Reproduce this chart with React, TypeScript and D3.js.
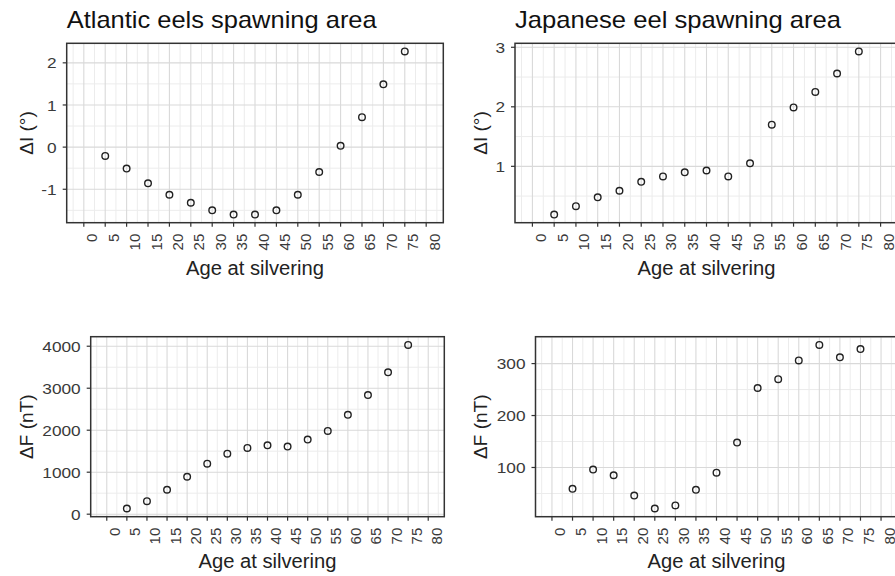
import React from "react";
import * as d3 from "d3";

const ages = [5, 10, 15, 20, 25, 30, 35, 40, 45, 50, 55, 60, 65, 70, 75];
const xTicks = [0, 5, 10, 15, 20, 25, 30, 35, 40, 45, 50, 55, 60, 65, 70, 75, 80];

const atlanticDI = [-0.21, -0.51, -0.86, -1.13, -1.32, -1.5, -1.6, -1.6, -1.5, -1.13, -0.59, 0.03, 0.71, 1.49, 2.27];
const japaneseDI = [0.19, 0.33, 0.48, 0.59, 0.74, 0.83, 0.9, 0.93, 0.83, 1.05, 1.7, 1.99, 2.25, 2.56, 2.93];
const atlanticDF = [135, 311, 582, 892, 1203, 1442, 1578, 1641, 1610, 1777, 1984, 2367, 2837, 3378, 4032];
const japaneseDF = [59, 96, 85, 46, 21, 27, 57, 90, 148, 253, 270, 306, 336, 312, 328];

const diTicksAtl = [-1, 0, 1, 2];
const diTicksJap = [1, 2, 3];
const dfTicksAtl = [0, 1000, 2000, 3000, 4000];
const dfTicksJap = [100, 200, 300];

const titleAtl = "Atlantic eels spawning area";
const titleJap = "Japanese eel spawning area";
const xLabel = "Age at silvering";
const yLabelDI = "ΔI (°)";
const yLabelDF = "ΔF (nT)";

type PanelProps = {
  left: number; right: number; top: number; bottom: number;
  values: number[]; yTicks: number[]; yStep: number;
  yLabel: string; yLabelX: number; title?: string; titleLen?: number;
  xLabelY: number;
};

function Panel(p: PanelProps) {
  const x = d3.scaleLinear().domain([-4, 84]).range([p.left, p.right]);
  const ext = d3.extent(p.values) as [number, number];
  const pad = (ext[1] - ext[0]) * 0.05;
  const y = d3.scaleLinear().domain([ext[0] - pad, ext[1] + pad]).range([p.bottom, p.top]);
  const [y0, y1] = y.domain();
  const minorX = d3.range(-2.5, 84, 5);
  const half = p.yStep / 2;
  const minorY = d3.range(Math.ceil((y0 - half) / p.yStep) * p.yStep + half, y1, p.yStep).filter(v => v > y0 && v < y1);
  const font = "'Liberation Sans', Arial, sans-serif";
  const ink = "#333";
  return (
    <g>
      <rect x={p.left} y={p.top} width={p.right - p.left} height={p.bottom - p.top} fill="#fff" />
      {minorX.map(v => (
        <line key={"mx" + v} x1={x(v)} x2={x(v)} y1={p.top} y2={p.bottom} stroke="#ececec" strokeWidth={1} />
      ))}
      {minorY.map(v => (
        <line key={"my" + v} x1={p.left} x2={p.right} y1={y(v)} y2={y(v)} stroke="#ececec" strokeWidth={1} />
      ))}
      {xTicks.map(v => (
        <line key={"gx" + v} x1={x(v)} x2={x(v)} y1={p.top} y2={p.bottom} stroke="#d9d9d9" strokeWidth={1.1} />
      ))}
      {p.yTicks.map(v => (
        <line key={"gy" + v} x1={p.left} x2={p.right} y1={y(v)} y2={y(v)} stroke="#d9d9d9" strokeWidth={1.1} />
      ))}
      <rect x={p.left} y={p.top} width={p.right - p.left} height={p.bottom - p.top} fill="none" stroke={ink} strokeWidth={1.5} />
      {ages.map((a, i) => (
        <circle key={"pt" + a} cx={x(a)} cy={y(p.values[i])} r={3.3} fill="none" stroke="#222" strokeWidth={1.4} />
      ))}
      {xTicks.map(v => (
        <g key={"xt" + v}>
          <line x1={x(v)} x2={x(v)} y1={p.bottom} y2={p.bottom + 4} stroke={ink} strokeWidth={1.2} />
          <text transform={`translate(${x(v) + 8},${p.bottom + 11}) rotate(-90)`} textAnchor="end"
            dominantBaseline="central" fontFamily={font} fontSize={15} fill="#3a3a3a">{v}</text>
        </g>
      ))}
      {p.yTicks.map(v => (
        <g key={"yt" + v}>
          <line x1={p.left - 4} x2={p.left} y1={y(v)} y2={y(v)} stroke={ink} strokeWidth={1.2} />
          <text transform={`translate(${p.left - 10},${y(v)}) scale(1.15,1)`} textAnchor="end"
            dominantBaseline="central" fontFamily={font} fontSize={15} fill="#3a3a3a">{v}</text>
        </g>
      ))}
      <text x={(p.left + p.right) / 2} y={p.xLabelY} textAnchor="middle"
        fontFamily={font} fontSize={19.5} fill="#222" textLength={138} lengthAdjust="spacingAndGlyphs">{xLabel}</text>
      <text transform={`translate(${p.yLabelX},${(p.top + p.bottom) / 2}) rotate(-90)`} textAnchor="middle"
        fontFamily={font} fontSize={19} fill="#222">{p.yLabel}</text>
      {p.title && (
        <text x={p.left} y={28} fontFamily={font} fontSize={24} fill="#111"
          textLength={p.titleLen} lengthAdjust="spacingAndGlyphs">{p.title}</text>
      )}
    </g>
  );
}

export default function App() {
  return (
    <svg width={895} height={576} style={{ position: "absolute", left: 0, top: 0, background: "#fff" }}>
      <rect x={0} y={0} width={895} height={576} fill="#fff" />
      <Panel left={66.7} right={443.3} top={43.3} bottom={222.7} values={atlanticDI} yTicks={diTicksAtl} yStep={1}
        yLabel={yLabelDI} yLabelX={33} title={titleAtl} titleLen={310} xLabelY={275} />
      <Panel left={515} right={898} top={43.3} bottom={222.7} values={japaneseDI} yTicks={diTicksJap} yStep={1}
        yLabel={yLabelDI} yLabelX={486.5} title={titleJap} titleLen={326} xLabelY={275} />
      <Panel left={90.7} right={444.3} top={336.7} bottom={516.7} values={atlanticDF} yTicks={dfTicksAtl} yStep={1000}
        yLabel={yLabelDF} yLabelX={33} xLabelY={568} />
      <Panel left={535.5} right={897.5} top={336.7} bottom={516.7} values={japaneseDF} yTicks={dfTicksJap} yStep={100}
        yLabel={yLabelDF} yLabelX={486.5} xLabelY={568} />
    </svg>
  );
}
